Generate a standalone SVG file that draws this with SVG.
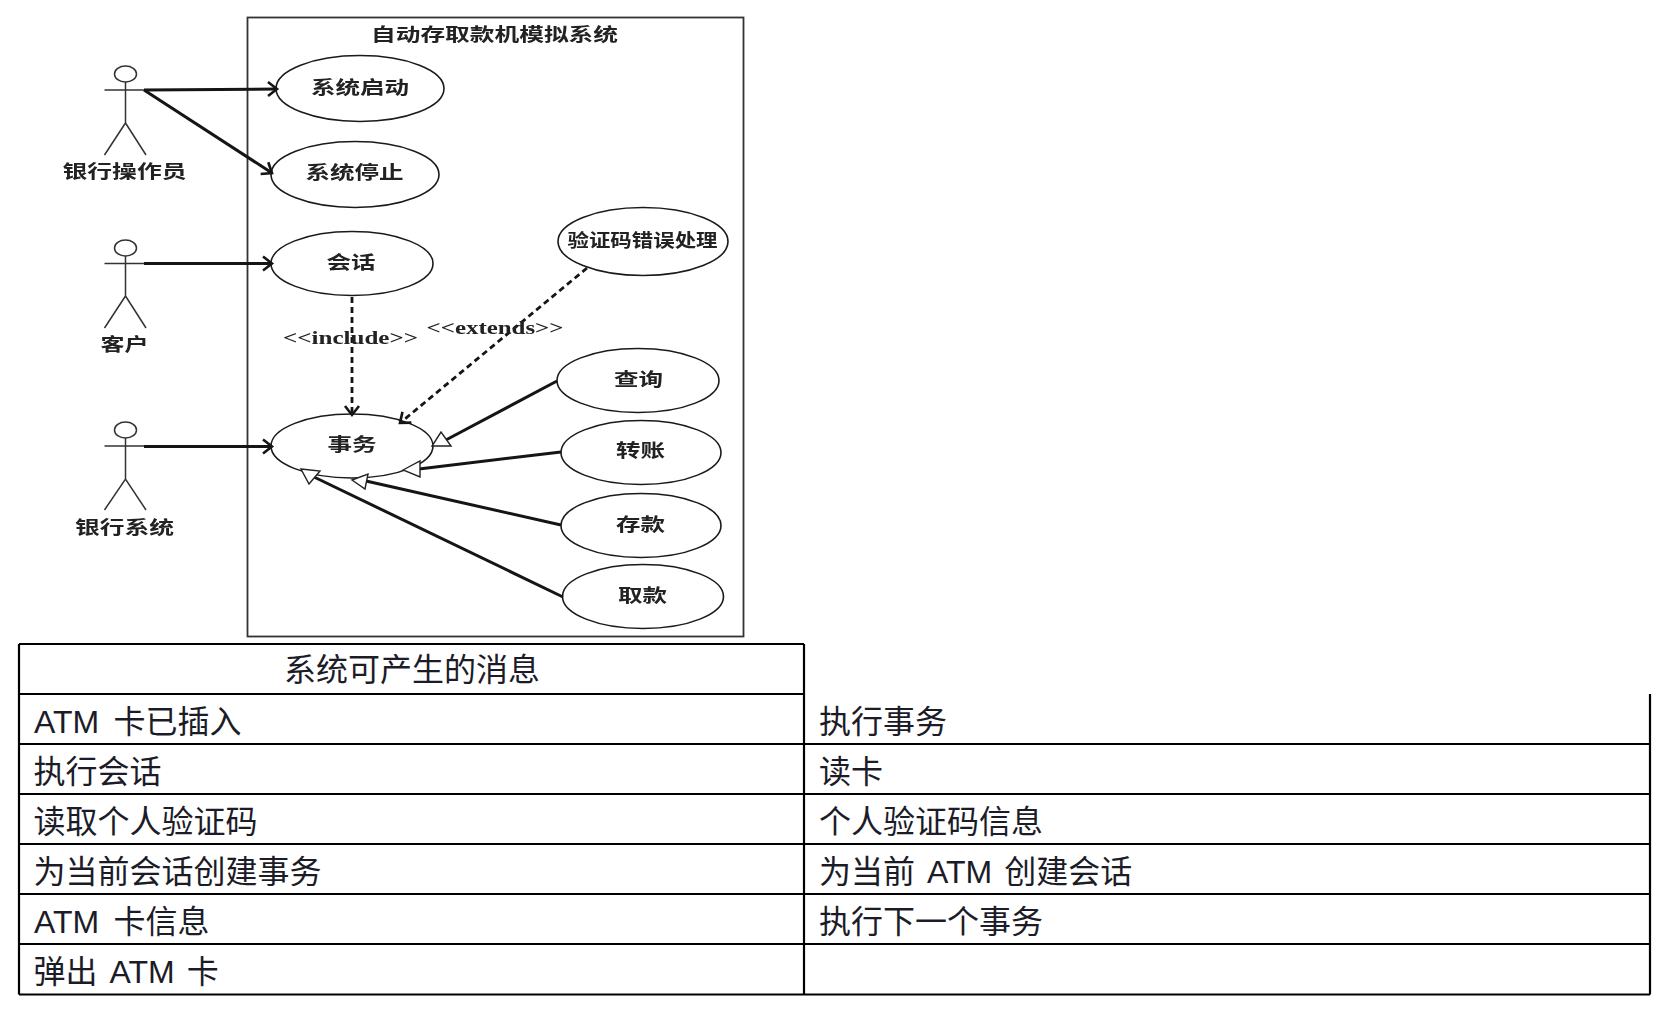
<svg xmlns="http://www.w3.org/2000/svg" width="1665" height="1025" viewBox="0 0 1665 1025">
<style>
.uc{fill:#fff;stroke:#1a1a1a;stroke-width:1.6}
.st{fill:none;stroke:#333;stroke-width:1.5}
.c{fill:none;stroke:#151515;stroke-width:3}
.d{fill:none;stroke:#151515;stroke-width:2.8;stroke-dasharray:6 4}
.o{marker-end:url(#open)}
.g{fill:#fff;stroke:#222;stroke-width:1.4}
.l{font-family:"Noto Sans CJK SC","Liberation Serif",serif;font-size:18px;font-weight:700;fill:#222;text-anchor:middle;filter:url(#soft)}
.s{font-family:"Liberation Serif","Noto Sans CJK SC",serif;font-size:18px;font-weight:700;fill:#222;text-anchor:middle;filter:url(#soft)}
.t{font-family:"Liberation Sans","Noto Sans CJK SC",sans-serif;font-size:32px;fill:#1c1c28}
.w1{word-spacing:5.5px}
.w2{word-spacing:3.2px}
.b{fill:none;stroke:#000;stroke-width:2.2}
</style>
<defs>
<filter id="soft" x="-5%" y="-20%" width="110%" height="140%"><feGaussianBlur stdDeviation="0.6"/></filter>
<marker id="open" markerUnits="userSpaceOnUse" markerWidth="16" markerHeight="18" refX="12" refY="9" orient="auto"><path d="M3 2L12 9L3 16" fill="none" stroke="#151515" stroke-width="2.6"/></marker>
</defs>
<rect width="1665" height="1025" fill="#fff"/>
<g id="system-boundary">
<rect x="247.5" y="17.5" width="496" height="619" fill="#fff" stroke="#333" stroke-width="1.8"/>
<text class="l" x="494.500" y="41" textLength="247" lengthAdjust="spacingAndGlyphs">自动存取款机模拟系统</text>
</g>
<g id="actor-operator"><ellipse class="st" cx="125.500" cy="74" rx="11" ry="8"/><path class="st" d="M125.500 82V123M104.500 90H146M104.500 155L125.500 123L146 155"/><text class="l" x="124.500" y="178" textLength="124" lengthAdjust="spacingAndGlyphs">银行操作员</text></g>
<g id="actor-customer"><ellipse class="st" cx="125.500" cy="248" rx="11" ry="8"/><path class="st" d="M125.500 256V296M104.500 263.500H146M104.500 328L125.500 296L146 328"/><text class="l" x="124.500" y="351" textLength="48" lengthAdjust="spacingAndGlyphs">客户</text></g>
<g id="actor-bank"><ellipse class="st" cx="125.500" cy="430" rx="11" ry="8"/><path class="st" d="M125.500 438V479M104.500 446H146M104.500 510L125.500 479L146 510"/><text class="l" x="124.500" y="534" textLength="99" lengthAdjust="spacingAndGlyphs">银行系统</text></g>
<g id="uc-start"><ellipse class="uc" cx="360" cy="88.500" rx="84" ry="33"/><text class="l" x="360" y="94" textLength="98" lengthAdjust="spacingAndGlyphs">系统启动</text></g>
<g id="uc-stop"><ellipse class="uc" cx="355" cy="174.500" rx="84" ry="33"/><text class="l" x="354.500" y="179" textLength="98" lengthAdjust="spacingAndGlyphs">系统停止</text></g>
<g id="uc-session"><ellipse class="uc" cx="352" cy="263.500" rx="81" ry="32"/><text class="l" x="351" y="268.500" textLength="49" lengthAdjust="spacingAndGlyphs">会话</text></g>
<g id="uc-pin-error"><ellipse class="uc" cx="643" cy="241.500" rx="85" ry="34"/><text class="l" x="642.500" y="247" textLength="150" lengthAdjust="spacingAndGlyphs">验证码错误处理</text></g>
<g id="uc-transaction"><ellipse class="uc" cx="352" cy="446" rx="81" ry="32"/><text class="l" x="352" y="451" textLength="49" lengthAdjust="spacingAndGlyphs">事务</text></g>
<g id="uc-query"><ellipse class="uc" cx="638" cy="380.500" rx="81" ry="32"/><text class="l" x="638.500" y="386" textLength="49" lengthAdjust="spacingAndGlyphs">查询</text></g>
<g id="uc-transfer"><ellipse class="uc" cx="641" cy="452.500" rx="80" ry="32"/><text class="l" x="640.500" y="457" textLength="49" lengthAdjust="spacingAndGlyphs">转账</text></g>
<g id="uc-deposit"><ellipse class="uc" cx="641" cy="525.500" rx="80" ry="32"/><text class="l" x="640.500" y="531" textLength="49" lengthAdjust="spacingAndGlyphs">存款</text></g>
<g id="uc-withdraw"><ellipse class="uc" cx="643" cy="596.500" rx="80.500" ry="32"/><text class="l" x="642.500" y="602" textLength="49" lengthAdjust="spacingAndGlyphs">取款</text></g>
<g id="connectors">
<path class="c o" d="M144 90L277 89"/>
<path class="c o" d="M144 90L272 173"/>
<path class="c o" d="M144 263.5L272 263.5"/>
<path class="c o" d="M144 446.500L272 446.500"/>
<path class="d o" d="M352 297L352 415"/>
<path class="d o" d="M587 268L400 423"/>
<path class="c" d="M557 381L444 441"/>
<path class="c" d="M561 452L419 469"/>
<path class="c" d="M561 525L366 481"/>
<path class="c" d="M563 597L314 477"/>
<path class="g" d="M432 446L451 446L441 432Z"/>
<path class="g" d="M403 470L420 461L420 477Z"/>
<path class="g" d="M352 480L368 474L365 489Z"/>
<path class="g" d="M301 469L320 471L309 484Z"/>
</g>
<g id="connector-labels">
<text class="s" x="350.500" y="344" textLength="135" lengthAdjust="spacingAndGlyphs">&lt;&lt;include&gt;&gt;</text>
<text class="s" x="495" y="334" textLength="137" lengthAdjust="spacingAndGlyphs">&lt;&lt;extends&gt;&gt;</text>
</g>
<g id="message-table">
<path class="b" d="M19 644H804M19 694H804M19 744H1650M19 794H1650M19 844H1650M19 894H1650M19 944H1650M19 994.500H1650M19 644V994.500M804 644V994.500M1650 694V994.500"/>
<text class="t" x="412" y="681" text-anchor="middle">系统可产生的消息</text>
<text class="t w1" x="34" y="732.500">ATM 卡已插入</text>
<text class="t" x="33.500" y="782.500">执行会话</text>
<text class="t" x="33.500" y="832.500">读取个人验证码</text>
<text class="t" x="33.500" y="882.500">为当前会话创建事务</text>
<text class="t w1" x="34" y="932.500">ATM 卡信息</text>
<text class="t w2" x="33.500" y="982.500">弹出 ATM 卡</text>
<text class="t" x="819" y="732.500">执行事务</text>
<text class="t" x="819" y="782.500">读卡</text>
<text class="t" x="819" y="832.500">个人验证码信息</text>
<text class="t w2" x="819" y="882.500">为当前 ATM 创建会话</text>
<text class="t" x="819" y="932.500">执行下一个事务</text>
</g>
</svg>
